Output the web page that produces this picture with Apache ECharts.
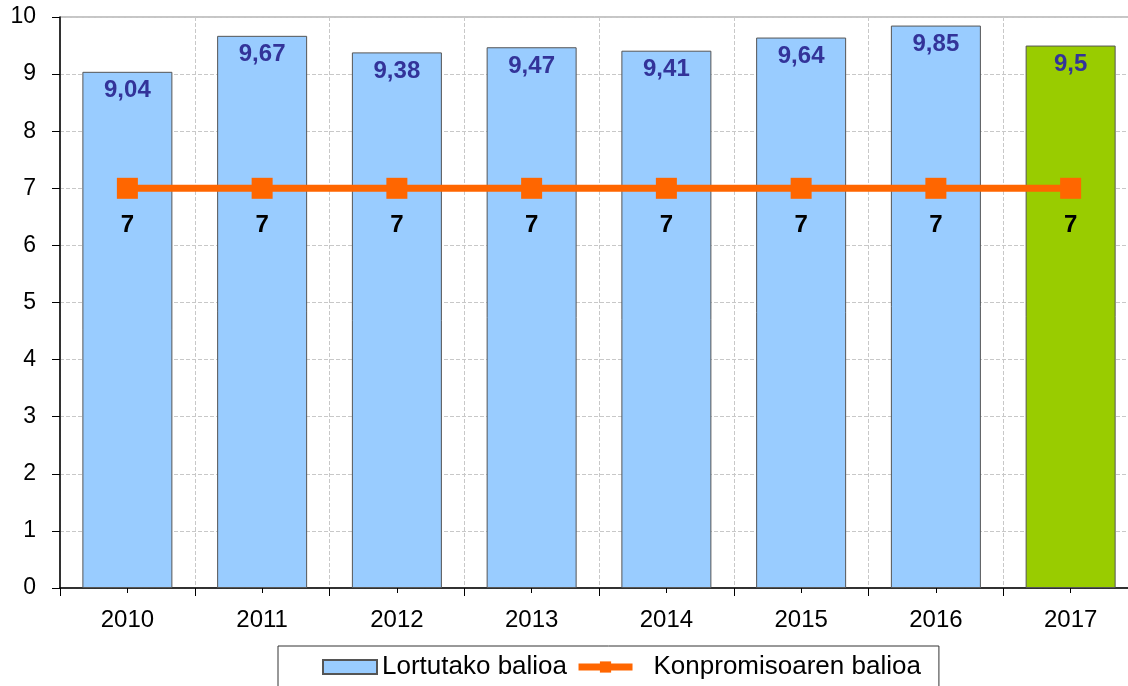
<!DOCTYPE html>
<html>
<head>
<meta charset="utf-8">
<script src="https://cdn.jsdelivr.net/npm/echarts@6/dist/echarts.min.js"></script>
<style>
  html, body { margin: 0; padding: 0; background: #fff; }
  #chart { width: 1128px; height: 686px; }
</style>
</head>
<body>
<div id="chart"></div>
<script>
var years = ['2010', '2011', '2012', '2013', '2014', '2015', '2016', '2017'];
var lortutako = [9.04, 9.67, 9.38, 9.47, 9.41, 9.64, 9.85, 9.5];
var konpromisoa = [7, 7, 7, 7, 7, 7, 7, 7];
var yTicks = [0, 1, 2, 3, 4, 5, 6, 7, 8, 9, 10];

var font = 'Liberation Sans, Arial, sans-serif';

var barData = lortutako.map(function (v, i) {
	var item = { value: v };
	if (i == lortutako.length - 1) {
		item.itemStyle = { color: '#99CC00' };
	}
	return item;
});

var chart = echarts.init(document.getElementById('chart'));
var option = {
	animation: false,
	textStyle: { fontFamily: font },
	grid: {
		left: 60,
		width: 1078,
		top: 17,
		bottom: 98,
		outerBoundsMode: 'none',
		show: true,
		borderColor: '#8c8c8c',
		borderWidth: 1
	},
	legend: {
		left: 278,
		top: 646,
		padding: [8, 18, 40, 44],
		itemGap: 8,
		itemWidth: 54,
		itemHeight: 14,
		borderColor: '#333',
		borderWidth: 1,
		textStyle: { fontSize: 26, color: '#000', fontFamily: font },
		data: [
			{ name: 'Lortutako balioa', icon: 'rect' },
			{
				name: 'Konpromisoaren balioa',
				textStyle: { padding: [0, 0, 0, 16] },
				lineStyle: { width: 7, color: '#FF6600' }
			}
		]
	},
	xAxis: [{
		type: 'category',
		data: years,
		axisLine: { lineStyle: { color: '#000', width: 1.5 } },
		axisTick: { show: true, length: 8, lineStyle: { color: '#000' } },
		axisLabel: { fontSize: 24, color: '#000', margin: 20, fontFamily: font },
		splitLine: { show: true, lineStyle: { color: '#c8c8c8', type: 'dashed' } }
	}, {
		type: 'category',
		data: years,
		position: 'bottom',
		axisLine: { show: false },
		axisTick: { show: true, alignWithLabel: true, length: 5, lineStyle: { color: '#000' } },
		axisLabel: { show: false },
		splitLine: { show: false }
	}],
	yAxis: {
		type: 'value',
		min: yTicks[0],
		max: yTicks[yTicks.length - 1],
		interval: 1,
		axisLine: { show: true, lineStyle: { color: '#000', width: 1.5 } },
		axisTick: { show: true, length: 8, lineStyle: { color: '#000' } },
		axisLabel: { fontSize: 23, color: '#000', margin: 24, fontFamily: font },
		splitLine: { show: true, lineStyle: { color: '#c8c8c8', type: 'dashed' } }
	},
	series: [{
		name: 'Lortutako balioa',
		type: 'bar',
		barWidth: 90,
		data: barData,
		itemStyle: {
			color: '#99CCFF',
			borderColor: '#555',
			borderWidth: 1
		},
		label: {
			show: true,
			position: 'insideTop',
			distance: 7,
			color: '#333399',
			fontWeight: 'bold',
			fontSize: 24,
			fontFamily: font,
			formatter: function (p) {
				return String(p.value).replace('.', ',');
			}
		}
	}, {
		name: 'Konpromisoaren balioa',
		type: 'line',
		data: konpromisoa,
		z: 5,
		symbol: 'rect',
		symbolSize: 21,
		lineStyle: { color: '#FF6600', width: 7 },
		itemStyle: { color: '#FF6600' },
		label: {
			show: true,
			position: 'bottom',
			distance: 15,
			color: '#000',
			fontWeight: 'bold',
			fontSize: 24,
			fontFamily: font
		}
	}]
};
chart.setOption(option);
</script>
</body>
</html>
